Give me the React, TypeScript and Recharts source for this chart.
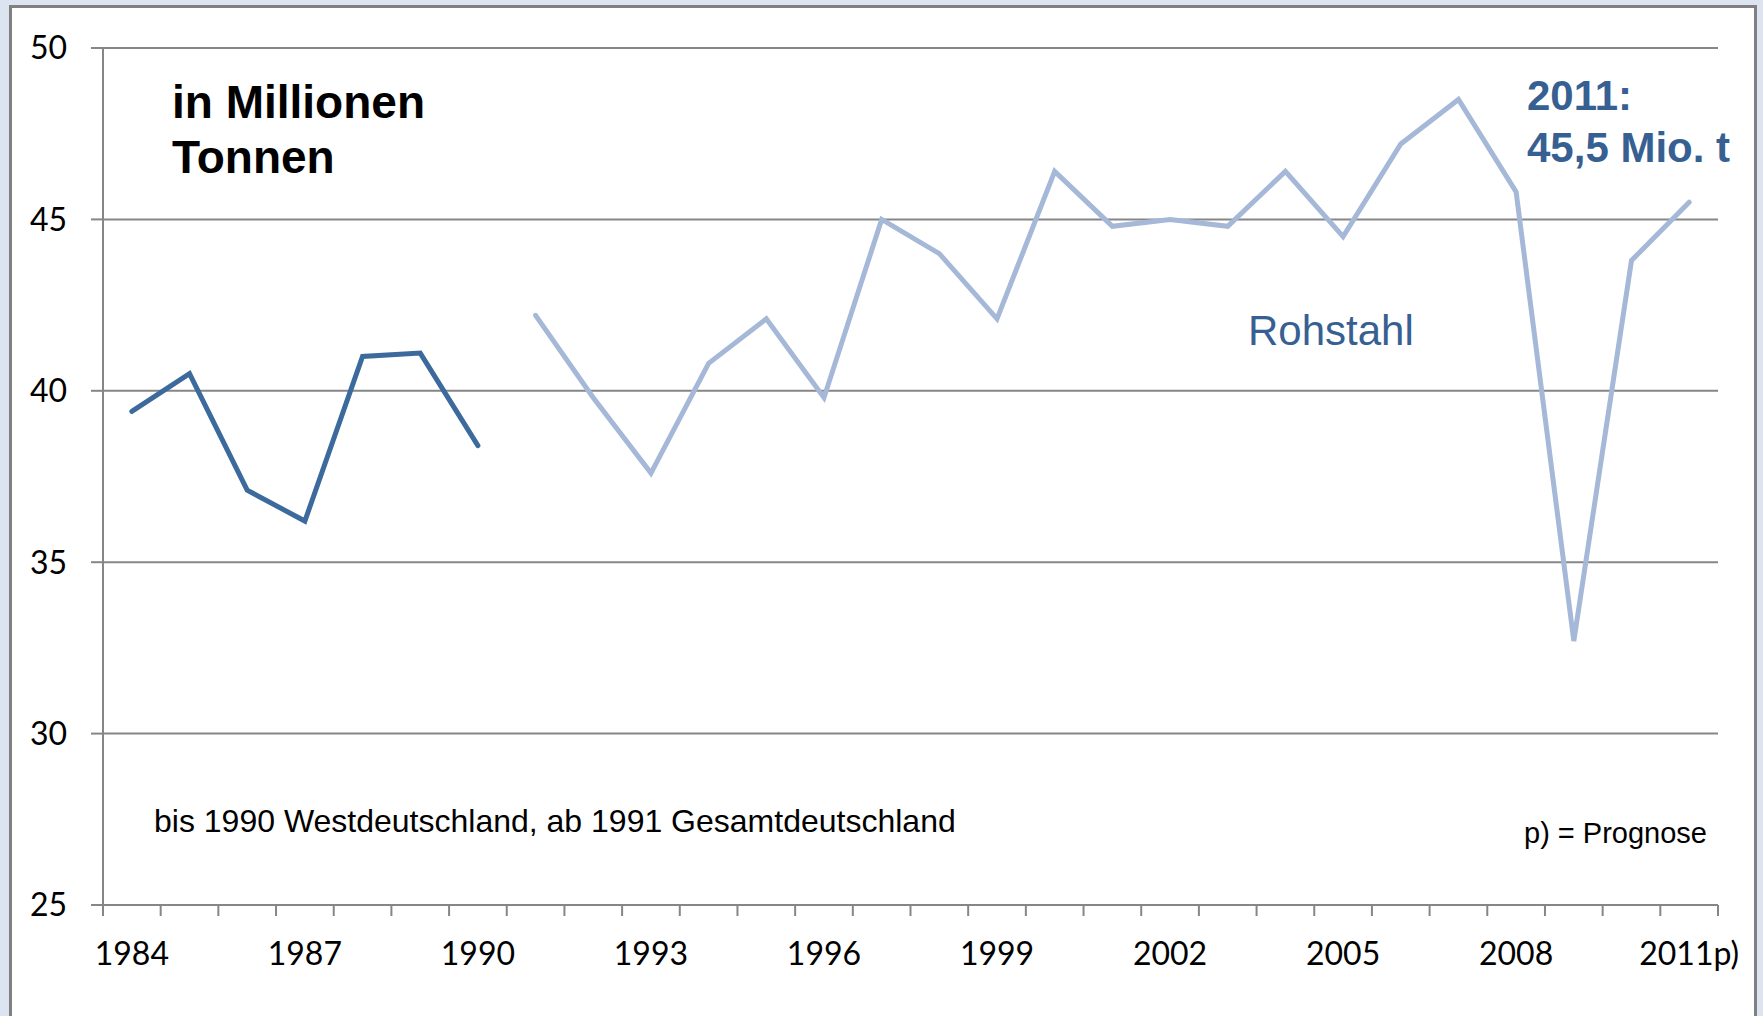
import { LineChart, Line, XAxis, YAxis, CartesianGrid } from "recharts";

const years = [
  1984, 1985, 1986, 1987, 1988, 1989, 1990, 1991, 1992, 1993, 1994, 1995, 1996, 1997,
  1998, 1999, 2000, 2001, 2002, 2003, 2004, 2005, 2006, 2007, 2008, 2009, 2010, 2011,
];
// bis 1990 Westdeutschland
const west = [39.4, 40.5, 37.1, 36.2, 41.0, 41.1, 38.4];
// ab 1991 Gesamtdeutschland
const gesamt = [
  42.2, 39.8, 37.6, 40.8, 42.1, 39.8, 45.0, 44.0, 42.1, 46.4, 44.8, 45.0, 44.8, 46.4,
  44.5, 47.2, 48.5, 45.8, 32.7, 43.8, 45.5,
];
const yTicks = [25, 30, 35, 40, 45, 50];
const labelYears = [1984, 1987, 1990, 1993, 1996, 1999, 2002, 2005, 2008, 2011];
const boundaries = [...years.map((y) => y - 0.5), 2011.5];

const data = years.map((year, i) => ({
  year,
  west: i < west.length ? west[i] : null,
  gesamt: i >= west.length ? gesamt[i - west.length] : null,
}));

const GRID = "#868686";
const DARK = "#3c6a9c";
const LIGHT = "#a5b8d7";
const TEXT_BLUE = "#376092";

function YearTick(props: any) {
  const { x, y, payload } = props;
  const v = payload.value as number;
  if (!Number.isInteger(v)) {
    return <line x1={x} x2={x} y1={y} y2={y + 11} stroke={GRID} strokeWidth={2} />;
  }
  if (!labelYears.includes(v)) return null;
  return (
    <text
      x={x}
      y={y + 60}
      textAnchor="middle"
      fontFamily="Lato, 'Open Sans', sans-serif"
      fontSize={32}
      fill="#000"
    >
      {v === 2011 ? "2011p)" : String(v)}
    </text>
  );
}

export default function App() {
  return (
    <div
      style={{
        position: "absolute",
        left: 0,
        top: 0,
        width: 1763,
        height: 1016,
        background: "#dbe4f0",
        overflow: "hidden",
      }}
    >
      <div
        style={{
          position: "absolute",
          left: 9,
          top: 5,
          width: 1742,
          height: 1100,
          background: "#fff",
          border: "3px solid #808080",
        }}
      />
      <div style={{ position: "absolute", left: 0, top: 0 }}>
        <LineChart
          width={1763}
          height={1016}
          data={data}
          margin={{ top: 48, right: 45, bottom: 51, left: 0 }}
        >
          <CartesianGrid vertical={false} stroke={GRID} strokeWidth={2} />
          <XAxis
            dataKey="year"
            type="number"
            domain={[1983.5, 2011.5]}
            ticks={[...boundaries, ...years].sort((a, b) => a - b)}
            interval={0}
            height={60}
            tickSize={0}
            tickMargin={0}
            tickLine={false}
            axisLine={{ stroke: GRID, strokeWidth: 2 }}
            tick={<YearTick />}
          />
          <YAxis
            domain={[25, 50]}
            ticks={yTicks}
            width={103}
            tickSize={12}
            tickMargin={24}
            tickLine={{ stroke: GRID, strokeWidth: 2 }}
            axisLine={{ stroke: GRID, strokeWidth: 2 }}
            tick={{
              fontFamily: "Lato, 'Open Sans', sans-serif",
              fontSize: 32,
              fill: "#000",
            }}
          />
          <Line
            dataKey="west"
            stroke={DARK}
            strokeWidth={5}
            strokeLinecap="round"
            dot={false}
            activeDot={false}
            connectNulls={false}
            isAnimationActive={false}
          />
          <Line
            dataKey="gesamt"
            stroke={LIGHT}
            strokeWidth={5}
            strokeLinecap="round"
            dot={false}
            activeDot={false}
            connectNulls={false}
            isAnimationActive={false}
          />
        </LineChart>
      </div>
      <svg
        width={1763}
        height={1016}
        style={{ position: "absolute", left: 0, top: 0, pointerEvents: "none" }}
        fontFamily="'Liberation Sans', Arial, sans-serif"
      >
        <text x={172} y={118} fontSize={46} fontWeight="bold" fill="#000">
          in Millionen
        </text>
        <text x={172} y={173} fontSize={46} fontWeight="bold" fill="#000">
          Tonnen
        </text>
        <text x={1527} y={110} fontSize={42} fontWeight="bold" fill={TEXT_BLUE}>
          2011:
        </text>
        <text x={1527} y={162} fontSize={42} fontWeight="bold" fill={TEXT_BLUE}>
          45,5 Mio. t
        </text>
        <text x={1248} y={345} fontSize={42} fill={TEXT_BLUE}>
          Rohstahl
        </text>
        <text x={154} y={832} fontSize={32} fill="#000">
          bis 1990 Westdeutschland, ab 1991 Gesamtdeutschland
        </text>
        <text x={1707} y={843} fontSize={29} textAnchor="end" fill="#000">
          p) = Prognose
        </text>
      </svg>
    </div>
  );
}
